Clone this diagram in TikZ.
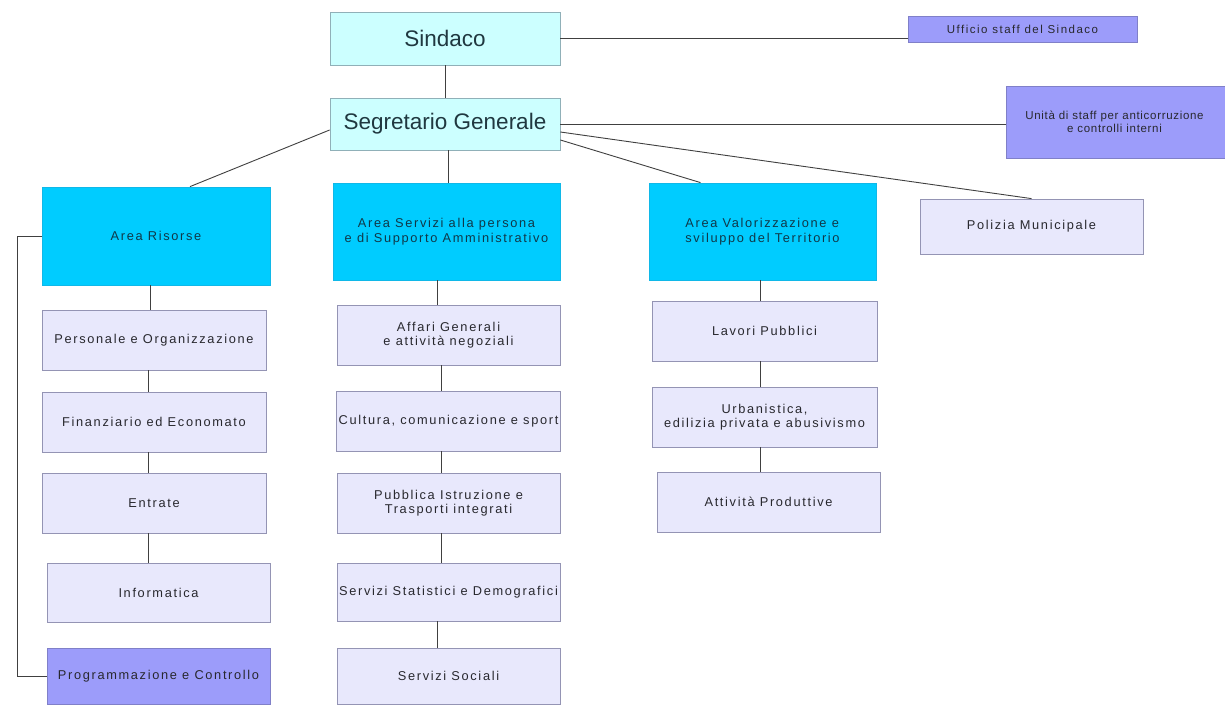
\documentclass[tikz,border=0pt]{standalone}
\usepackage{fontspec}
\setmainfont{Liberation Sans}
\newfontfamily\lsp[LetterSpace=13]{Liberation Sans}
\newfontfamily\lspn[LetterSpace=6]{Liberation Sans}
\begin{document}
\begin{tikzpicture}[x=1pt,y=-1pt,
  base/.style={rectangle, inner sep=2pt, align=center, line width=0.8pt},
  lb/.style={base, fill=lbf, draw=lbd, text=smtxt, font=\lsp\fontsize{12.8}{14.5}\selectfont},
  db/.style={base, fill=dbf, draw=dbd, text=smtxt, font=\lsp\fontsize{12.8}{14.5}\selectfont},
  ab/.style={base, fill=abf, draw=abd, text=abtxt, font=\lsp\fontsize{12.8}{14.5}\selectfont},
  tb/.style={base, fill=tbf, draw=tbd, text=bigtxt, font=\fontsize{22.5}{26}\selectfont},
  ln/.style={draw=lnc, line width=0.9pt}]
\definecolor{lbf}{HTML}{E8E8FC}
\definecolor{lbd}{HTML}{9494B4}
\definecolor{dbf}{HTML}{9C9CFA}
\definecolor{dbd}{HTML}{8080C8}
\definecolor{abf}{HTML}{00CCFF}
\definecolor{abd}{HTML}{10B8E8}
\definecolor{tbf}{HTML}{CCFFFF}
\definecolor{tbd}{HTML}{90B0B8}
\definecolor{smtxt}{HTML}{28282E}
\definecolor{abtxt}{HTML}{103848}
\definecolor{bigtxt}{HTML}{203840}
\definecolor{lnc}{HTML}{404040}
\useasboundingbox (0,0) rectangle (1225,704);
\fill[white] (0,0) rectangle (1225,704);

% top
\node[tb, minimum width=230pt, minimum height=53pt] (sin) at (445,38.5) {Sindaco};
\node[tb, minimum width=230pt, minimum height=52pt] (seg) at (445,124) {Segretario Generale};
\node[db, minimum width=229pt, minimum height=26pt, font=\lsp\fontsize{11.5}{13}\selectfont] (uff) at (1022.5,29) {Ufficio staff del Sindaco};
\begin{scope}
\clip (0,0) rectangle (1225,704);
\node[db, minimum width=226pt, minimum height=72pt, font=\lspn\fontsize{11.5}{13.5}\selectfont] (uni) at (1119,122) {};
\node[text=smtxt, font=\lspn\fontsize{11.5}{13.5}\selectfont, align=center, inner sep=0pt] (unit) at (1114.5,122) {Unità di staff per anticorruzione\\e controlli interni};
\end{scope}

% areas
\node[ab, minimum width=228pt, minimum height=98pt] (ris) at (156,236) {Area Risorse};
\node[ab, minimum width=227pt, minimum height=97pt] (ser) at (446.5,231.5) {Area Servizi alla persona\\e di Supporto Amministrativo};
\node[ab, minimum width=227pt, minimum height=97pt, align=left] (val) at (762.5,231.5) {Area Valorizzazione e\\sviluppo del Territorio};
\node[lb, minimum width=223pt, minimum height=55pt] (pol) at (1031.5,226.5) {Polizia Municipale};

% left column
\node[lb, minimum width=224pt, minimum height=60pt] (per) at (154,340) {Personale e Organizzazione};
\node[lb, minimum width=224pt, minimum height=60pt] (fin) at (154,422) {Finanziario ed Economato};
\node[lb, minimum width=224pt, minimum height=60pt] (ent) at (154,503) {Entrate};
\node[lb, minimum width=223pt, minimum height=59pt] (inf) at (158.5,592.5) {Informatica};
\node[db, minimum width=223pt, minimum height=56pt] (pro) at (158.5,676) {Programmazione e Controllo};

% middle column
\node[lb, minimum width=223pt, minimum height=60pt] (aff) at (448.5,335) {Affari Generali\\e attività negoziali};
\node[lb, minimum width=223pt, minimum height=60pt] (cul) at (448.5,421) {Cultura, comunicazione e sport};
\node[lb, minimum width=223pt, minimum height=60pt] (pub) at (448.5,503) {Pubblica Istruzione e\\Trasporti integrati};
\node[lb, minimum width=223pt, minimum height=58pt] (sta) at (448.5,592) {Servizi Statistici e Demografici};
\node[lb, minimum width=223pt, minimum height=56pt] (soc) at (448.5,676) {Servizi Sociali};

% right column
\node[lb, minimum width=225pt, minimum height=60pt] (lav) at (764.5,331) {Lavori Pubblici};
\node[lb, minimum width=225pt, minimum height=60pt] (urb) at (764.5,417) {Urbanistica,\\edilizia privata e abusivismo};
\node[lb, minimum width=223pt, minimum height=60pt] (att) at (768.5,502) {Attività Produttive};

% connectors
\draw[ln] (sin.south) -- (seg.north);
\draw[ln] (sin.east) -- (sin.east -| uff.west);
\draw[ln] (seg.east) -- (seg.east -| uni.west);
\draw[ln] ([yshift=-6pt]seg.west) -- ([xshift=34pt]ris.north);
\draw[ln] ([xshift=3pt]seg.south) -- ([xshift=3pt]seg.south |- ser.north);
\draw[ln] ([yshift=-16pt]seg.east) -- ([xshift=-62pt]val.north);
\draw[ln] ([yshift=-8pt]seg.east) -- (pol.north);

\draw[ln] ([xshift=-6pt]ris.south) -- ([xshift=-6pt]ris.south |- per.north);
\draw[ln] ([xshift=-6pt]per.south) -- ([xshift=-6pt]per.south |- fin.north);
\draw[ln] ([xshift=-6pt]fin.south) -- ([xshift=-6pt]fin.south |- ent.north);
\draw[ln] ([xshift=-6pt]ent.south) -- ([xshift=-6pt]ent.south |- inf.north);
\draw[ln] (ris.west) -- ++(-24,0) |- (pro.west);

\draw[ln] ([xshift=-9pt]ser.south) -- ([xshift=-9pt]ser.south |- aff.north);
\draw[ln] ([xshift=-7pt]aff.south) -- ([xshift=-7pt]aff.south |- cul.north);
\draw[ln] ([xshift=-7pt]cul.south) -- ([xshift=-7pt]cul.south |- pub.north);
\draw[ln] ([xshift=-7pt]pub.south) -- ([xshift=-7pt]pub.south |- sta.north);
\draw[ln] ([xshift=-11pt]sta.south) -- ([xshift=-11pt]sta.south |- soc.north);

\draw[ln] ([xshift=-2pt]val.south) -- ([xshift=-2pt]val.south |- lav.north);
\draw[ln] ([xshift=-4pt]lav.south) -- ([xshift=-4pt]lav.south |- urb.north);
\draw[ln] ([xshift=-4pt]urb.south) -- ([xshift=-4pt]urb.south |- att.north);
\end{tikzpicture}
\end{document}
